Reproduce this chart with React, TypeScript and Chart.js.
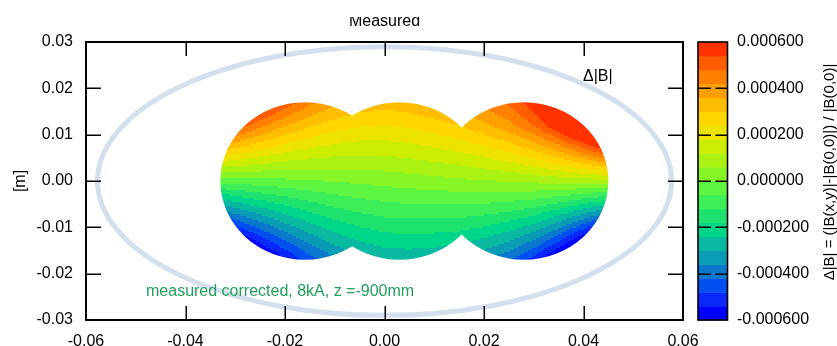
import React, { useEffect, useRef } from 'react';
import { Chart, registerables } from 'chart.js';

Chart.register(...registerables);

// ---------- data ----------
const X_TICKS = [-0.06, -0.04, -0.02, 0, 0.02, 0.04, 0.06];
const Y_TICKS = [-0.03, -0.02, -0.01, 0, 0.01, 0.02, 0.03];
const CB_TICKS = [-0.0006, -0.0004, -0.0002, 0, 0.0002, 0.0004, 0.0006];

// measured field grid (values in ppm = 1e-6), columns = FIELD_X, rows = FIELD_Y
const FIELD_X = [-0.035, -0.03, -0.025, -0.02, -0.015, -0.01, -0.005, 0, 0.005, 0.01, 0.015, 0.02, 0.025, 0.03, 0.035, 0.04, 0.045];
const FIELD_Y = [0.018, 0.012, 0.006, 0, -0.006, -0.012, -0.018];
const ROW_P18 = [970, 806, 667, 553, 463, 400, 361, 347, 360, 390, 426, 470, 510, 600, 760, 960, 1200];
const ROW_P12 = [633, 527, 438, 364, 307, 268, 245, 238, 250, 273, 300, 344, 401, 482, 599, 751, 916];
const ROW_P06 = [297, 248, 208, 175, 151, 136, 128, 130, 140, 156, 174, 200, 233, 278, 341, 421, 508];
const ROW_000 = [-40, -31, -22, -14, -5, 4, 12, 21, 30, 39, 48, 56, 65, 74, 83, 91, 100];
const ROW_M06 = [-377, -310, -252, -203, -161, -128, -104, -88, -80, -78, -78, -88, -103, -130, -175, -239, -308];
const ROW_M12 = [-713, -589, -482, -392, -317, -260, -221, -196, -190, -195, -204, -232, -271, -334, -433, -569, -716];
const ROW_M18 = [-1050, -868, -711, -581, -473, -392, -337, -305, -300, -312, -330, -376, -439, -538, -691, -899, -1124];
const FIELD_ROWS = [ROW_P18, ROW_P12, ROW_P06, ROW_000, ROW_M06, ROW_M12, ROW_M18];
const PPM = 1e-6;

// contour levels
const LEVEL_MIN = -0.0006;
const LEVEL_MAX = 0.0006;
const LEVEL_COUNT = 20;

// measurement region: three overlapping circles
const CIRCLE_X = [-0.016, 0.003, 0.028];
const CIRCLE_Y = [0, 0, 0];
const CIRCLE_R = [0.017, 0.017, 0.017];

// aperture ellipse [cx, cy, a, b]
const ELLIPSE = [0, 0, 0.0577, 0.029];

// ---------- styles ----------
const PALETTE = [
  '#0000FF', '#0A28FA', '#0050F0', '#0A78CC', '#0A9CB4',
  '#0ABAA0', '#00D68A', '#1EE26E', '#3EEE58', '#5EF542',
  '#86F626', '#AAF214', '#CDED00', '#ECE300', '#FFD600',
  '#FFBD00', '#FFA000', '#FF8000', '#FF5E00', '#FF3200',
];
const FONT = 'Liberation Sans, Arial, Helvetica, sans-serif';

function sampleField(x: number, y: number): number {
  const nx = FIELD_X.length;
  const ny = FIELD_Y.length;
  let i = 0;
  while (i < nx - 2 && x > FIELD_X[i + 1]) i++;
  let j = 0;
  while (j < ny - 2 && y < FIELD_Y[j + 1]) j++;
  let tx = (x - FIELD_X[i]) / (FIELD_X[i + 1] - FIELD_X[i]);
  let ty = (y - FIELD_Y[j]) / (FIELD_Y[j + 1] - FIELD_Y[j]);
  tx = Math.max(0, Math.min(1, tx));
  ty = Math.max(0, Math.min(1, ty));
  const a = FIELD_ROWS[j][i], b = FIELD_ROWS[j][i + 1];
  const c = FIELD_ROWS[j + 1][i], d = FIELD_ROWS[j + 1][i + 1];
  const top = a + (b - a) * tx;
  const bot = c + (d - c) * tx;
  return (top + (bot - top) * ty) * PPM;
}

function levelIndex(v: number): number {
  const step = (LEVEL_MAX - LEVEL_MIN) / LEVEL_COUNT;
  let k = Math.floor((v - LEVEL_MIN) / step);
  if (k < 0) k = 0;
  if (k > LEVEL_COUNT - 1) k = LEVEL_COUNT - 1;
  return k;
}

const fieldPlugin = {
  id: 'fieldPlugin',
  beforeDatasetsDraw(chart: any) {
    const { ctx, chartArea, scales } = chart;
    const xs = scales.x;
    const ys = scales.y;
    ctx.save();
    ctx.beginPath();
    ctx.rect(chartArea.left, chartArea.top, chartArea.right - chartArea.left, chartArea.bottom - chartArea.top);
    ctx.clip();

    // ellipse
    const ecx = xs.getPixelForValue(ELLIPSE[0]);
    const ecy = ys.getPixelForValue(ELLIPSE[1]);
    const erx = xs.getPixelForValue(ELLIPSE[0] + ELLIPSE[2]) - ecx;
    const ery = ecy - ys.getPixelForValue(ELLIPSE[1] + ELLIPSE[3]);
    ctx.beginPath();
    ctx.ellipse(ecx, ecy, erx, ery, 0, 0, Math.PI * 2);
    ctx.strokeStyle = '#D3DFEC';
    ctx.lineWidth = 5;
    ctx.stroke();

    // field bounding box
    let x0 = Infinity, x1 = -Infinity, y0 = Infinity, y1 = -Infinity;
    const circ = CIRCLE_X.map((cx, k) => {
      const px = xs.getPixelForValue(cx);
      const py = ys.getPixelForValue(CIRCLE_Y[k]);
      const rx = xs.getPixelForValue(cx + CIRCLE_R[k]) - px;
      const ry = py - ys.getPixelForValue(CIRCLE_Y[k] + CIRCLE_R[k]);
      x0 = Math.min(x0, px - rx); x1 = Math.max(x1, px + rx);
      y0 = Math.min(y0, py - ry); y1 = Math.max(y1, py + ry);
      return { px, py, rx, ry };
    });
    x0 = Math.floor(x0) - 2; y0 = Math.floor(y0) - 2;
    x1 = Math.ceil(x1) + 2; y1 = Math.ceil(y1) + 2;
    const W = x1 - x0, H = y1 - y0;
    const off = document.createElement('canvas');
    off.width = W; off.height = H;
    const octx = off.getContext('2d')!;
    const cell = 2;
    for (let py = 0; py < H; py += cell) {
      const yv = ys.getValueForPixel(y0 + py + cell / 2);
      for (let px = 0; px < W; px += cell) {
        const xv = xs.getValueForPixel(x0 + px + cell / 2);
        octx.fillStyle = PALETTE[levelIndex(sampleField(xv, yv))];
        octx.fillRect(px, py, cell, cell);
      }
    }
    ctx.beginPath();
    circ.forEach((c) => {
      ctx.moveTo(c.px + c.rx, c.py);
      ctx.ellipse(c.px, c.py, c.rx, c.ry, 0, 0, Math.PI * 2);
    });
    ctx.clip();
    ctx.drawImage(off, x0, y0);
    ctx.restore();
  },
  afterDraw(chart: any) {
    const { ctx, chartArea, scales } = chart;
    const xs = scales.x, ys = scales.y, cb = scales.cb;
    const { left, right, top, bottom } = chartArea;
    ctx.save();
    // frame
    ctx.strokeStyle = '#000';
    ctx.lineWidth = 2;
    ctx.strokeRect(left, top, right - left, bottom - top);
    // inward ticks
    ctx.lineWidth = 1.5;
    ctx.beginPath();
    X_TICKS.slice(1, -1).forEach((v) => {
      const p = Math.round(xs.getPixelForValue(v)) + 0.25;
      ctx.moveTo(p, bottom); ctx.lineTo(p, bottom - 14);
      ctx.moveTo(p, top); ctx.lineTo(p, top + 14);
    });
    Y_TICKS.slice(1, -1).forEach((v) => {
      const p = Math.round(ys.getPixelForValue(v)) + 0.25;
      ctx.moveTo(left, p); ctx.lineTo(left + 15, p);
      ctx.moveTo(right, p); ctx.lineTo(right - 15, p);
    });
    ctx.stroke();

    // colour bar
    const cbl = 698, cbr = 727.5;
    const step = (LEVEL_MAX - LEVEL_MIN) / LEVEL_COUNT;
    for (let k = 0; k < LEVEL_COUNT; k++) {
      const ya = cb.getPixelForValue(LEVEL_MIN + k * step);
      const yb = cb.getPixelForValue(LEVEL_MIN + (k + 1) * step);
      ctx.fillStyle = PALETTE[k];
      ctx.fillRect(cbl, yb, cbr - cbl, ya - yb + 0.5);
    }
    ctx.strokeStyle = '#000';
    ctx.lineWidth = 1.6;
    ctx.strokeRect(cbl, cb.top, cbr - cbl, cb.bottom - cb.top);
    ctx.beginPath();
    ctx.lineWidth = 1.5;
    CB_TICKS.slice(1, -1).forEach((v) => {
      const p = Math.round(cb.getPixelForValue(v)) + 0.25;
      ctx.moveTo(cbl, p); ctx.lineTo(cbl + 13, p);
      ctx.moveTo(cbr, p); ctx.lineTo(cbr - 12, p);
    });
    ctx.stroke();

    // texts
    ctx.fillStyle = '#000';
    ctx.font = `16px ${FONT}`;
    ctx.textAlign = 'center';
    ctx.textBaseline = 'alphabetic';
    ctx.save();
    ctx.beginPath();
    ctx.rect(0, 17, chart.width, 30);
    ctx.clip();
    ctx.fillText('Measured', (left + right) / 2, 25.5);
    ctx.restore();

    ctx.textAlign = 'left';
    ctx.textBaseline = 'middle';
    ctx.fillText('\u0394|B|', 583, 77);

    ctx.fillStyle = '#22A05A';
    ctx.fillText('measured corrected, 8kA, z =-900mm', 146, 292);

    ctx.fillStyle = '#000';
    ctx.save();
    ctx.translate(21, (top + bottom) / 2);
    ctx.rotate(-Math.PI / 2);
    ctx.textAlign = 'center';
    ctx.fillText('[m]', 0, 0);
    ctx.restore();

    ctx.save();
    ctx.font = `15px ${FONT}`;
    ctx.translate(830, 172);
    ctx.rotate(-Math.PI / 2);
    ctx.textAlign = 'center';
    ctx.fillText('\u0394|B| = (|B(x,y)|-|B(0,0)|) / |B(0,0)|', 0, 0);
    ctx.restore();

    ctx.restore();
  },
};

function fixPadding(s: any) {
  s.paddingTop = 0;
  s.paddingBottom = 0;
  s.paddingLeft = 0;
  s.paddingRight = 0;
}

export default function App() {
  const ref = useRef<HTMLCanvasElement | null>(null);
  useEffect(() => {
    if (!ref.current) return;
    const tickFont = { family: FONT, size: 16 };
    const chart = new Chart(ref.current, {
      type: 'scatter',
      data: { datasets: [{ data: [], showLine: false, pointRadius: 0 }] },
      options: {
        animation: false,
        responsive: false,
        maintainAspectRatio: false,
        events: [],
        layout: { padding: { left: 0, right: 0, top: 42, bottom: 0 } },
        plugins: { legend: { display: false }, tooltip: { enabled: false }, title: { display: false } },
        scales: {
          x: {
            type: 'linear', position: 'bottom', min: -0.06, max: 0.06,
            afterBuildTicks: (s: any) => { s.ticks = X_TICKS.map((v) => ({ value: v })); },
            afterFit: (s: any) => { s.height = 26; fixPadding(s); },
            ticks: { padding: 12, font: tickFont, color: '#000', maxRotation: 0, autoSkip: false,
              callback: (v: any) => Number(v).toFixed(2) },
            grid: { display: false, drawTicks: false },
            border: { display: false },
          },
          y: {
            type: 'linear', position: 'left', min: -0.03, max: 0.03,
            afterBuildTicks: (s: any) => { s.ticks = Y_TICKS.map((v) => ({ value: v })); },
            afterFit: (s: any) => { s.width = 86; fixPadding(s); },
            ticks: { padding: 13, font: tickFont, color: '#000', autoSkip: false,
              callback: (v: any) => Number(v).toFixed(2) },
            grid: { display: false, drawTicks: false },
            border: { display: false },
          },
          cb: {
            type: 'linear', position: 'right', min: LEVEL_MIN, max: LEVEL_MAX,
            afterBuildTicks: (s: any) => { s.ticks = CB_TICKS.map((v) => ({ value: v })); },
            afterFit: (s: any) => { s.width = 154; fixPadding(s); },
            ticks: { padding: 54, font: tickFont, color: '#000', autoSkip: false,
              callback: (v: any) => Number(v).toFixed(6) },
            grid: { display: false, drawTicks: false },
            border: { display: false },
          },
        },
      },
      plugins: [fieldPlugin],
    } as any);
    return () => chart.destroy();
  }, []);
  return (
    <div style={{ position: 'fixed', left: 0, top: 0, width: 837, height: 346, background: '#fff' }}>
      <canvas ref={ref} width={837} height={346} style={{ display: 'block' }} />
    </div>
  );
}
